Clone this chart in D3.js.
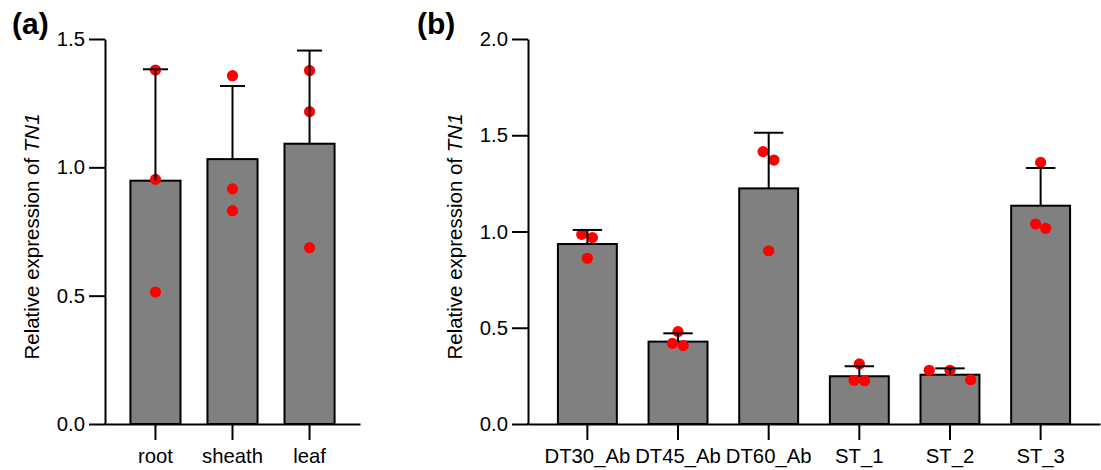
<!DOCTYPE html>
<html>
<head>
<meta charset="utf-8">
<script src="https://cdn.jsdelivr.net/npm/d3@7"></script>
<style>
  html, body { margin: 0; padding: 0; background: #fff; }
  svg text { font-family: "Liberation Sans", Arial, sans-serif; fill: #000; }
</style>
</head>
<body>
<svg id="chart" width="1101" height="470"></svg>
<script>
// ---- Panel (a) data ----
const catsA = ["root", "sheath", "leaf"];
const meanA = [0.948, 1.032, 1.092];
const sdA = [0.434, 0.285, 0.363];
const pointsA = [[1.379, 0.953, 0.514], [1.357, 0.916, 0.831], [1.377, 1.217, 0.687]];
const jitterA = [[0, 0, 0], [0, 0, 0], [0, 0, 0]]; // in dot diameters
const ticksA = [0, 0.5, 1.0, 1.5];

// ---- Panel (b) data ----
const catsB = ["DT30_Ab", "DT45_Ab", "DT60_Ab", "ST_1", "ST_2", "ST_3"];
const meanB = [0.935, 0.428, 1.224, 0.248, 0.256, 1.134];
const sdB = [0.073, 0.043, 0.289, 0.052, 0.033, 0.196];
const pointsB = [[0.985, 0.968, 0.861], [0.480, 0.419, 0.407], [1.415, 1.371, 0.900],
                 [0.312, 0.227, 0.225], [0.279, 0.279, 0.230], [1.359, 1.039, 1.017]];
const jitterB = [[-0.5, 0.45, 0], [0, -0.5, 0.47], [-0.5, 0.47, 0],
                 [0, -0.47, 0.47], [-1.85, 0, 1.85], [0, -0.45, 0.45]];
const ticksB = [0, 0.5, 1.0, 1.5, 2.0];

const svg = d3.select("#chart");
const FS = 20.3;
const dotR = 5.6;

function panel(opt) {
  const g = svg.append("g");
  const x = d3.scaleBand().domain(opt.cats).range([opt.left, opt.right])
    .paddingInner(0.35).paddingOuter(0.33);
  const y = d3.scaleLinear().domain([0, opt.ymax]).range([opt.bottom, opt.top]);
  const bw = x.bandwidth();
  const cx = c => x(c) + bw / 2;

  // bars
  g.selectAll("rect.bar").data(opt.cats).join("rect")
    .attr("x", c => x(c)).attr("width", bw)
    .attr("y", (c, i) => y(opt.mean[i]))
    .attr("height", (c, i) => y(0) - y(opt.mean[i]))
    .attr("fill", "#808080").attr("stroke", "#000").attr("stroke-width", 2);

  // dots
  opt.cats.forEach((c, i) => {
    g.selectAll(null).data(opt.points[i]).join("circle")
      .attr("cx", (v, j) => cx(c) + opt.jitter[i][j] * dotR * 2)
      .attr("cy", v => y(v))
      .attr("r", dotR).attr("fill", "#ff0000");
  });

  // error bars (upper only)
  opt.cats.forEach((c, i) => {
    const top = y(opt.mean[i] + opt.sd[i]);
    g.append("line").attr("x1", cx(c)).attr("x2", cx(c))
      .attr("y1", y(opt.mean[i])).attr("y2", top)
      .attr("stroke", "#000").attr("stroke-width", 2);
    g.append("line").attr("x1", cx(c) - bw / 4).attr("x2", cx(c) + bw / 4)
      .attr("y1", top).attr("y2", top)
      .attr("stroke", "#000").attr("stroke-width", 2);
  });

  // axes
  const xa = g.append("g").attr("transform", `translate(0,${opt.bottom})`)
    .call(d3.axisBottom(x).tickSize(16).tickSizeOuter(0).tickPadding(9));
  const ya = g.append("g").attr("transform", `translate(${opt.left},0)`)
    .call(d3.axisLeft(y).tickValues(opt.ticks).tickFormat(d3.format(".1f"))
      .tickSize(16).tickSizeOuter(0).tickPadding(4));
  [xa, ya].forEach(a => {
    a.select(".domain").attr("stroke", "#000").attr("stroke-width", 2);
    a.selectAll(".tick line").attr("stroke", "#000").attr("stroke-width", 2);
    a.selectAll(".tick text").attr("font-size", FS).attr("fill", "#000")
      .style("font-family", '"Liberation Sans", Arial, sans-serif');
  });
  // fix corner
  g.append("line").attr("x1", opt.left - 1).attr("x2", opt.left + 1)
    .attr("y1", opt.bottom).attr("y2", opt.bottom)
    .attr("stroke", "#000").attr("stroke-width", 2);

  // y title
  const t = g.append("text")
    .attr("transform", `translate(${opt.titleX},${(opt.top + opt.bottom) / 2 + 5}) rotate(-90)`)
    .attr("text-anchor", "middle").attr("font-size", 20.5);
  t.append("tspan").text("Relative expression of ");
  t.append("tspan").attr("font-style", "italic").text("TN1");

  // panel label
  g.append("text").attr("x", opt.labelX).attr("y", 34)
    .attr("font-size", 30).attr("font-weight", "bold").text(opt.label);
}

panel({cats: catsA, mean: meanA, sd: sdA, points: pointsA, jitter: jitterA, ticks: ticksA,
  ymax: 1.5, left: 105, right: 360, top: 39, bottom: 424, titleX: 39, labelX: 12, label: "(a)"});
panel({cats: catsB, mean: meanB, sd: sdB, points: pointsB, jitter: jitterB, ticks: ticksB,
  ymax: 2.0, left: 528, right: 1100, top: 39, bottom: 424, titleX: 462, labelX: 417, label: "(b)"});
</script>
</body>
</html>
